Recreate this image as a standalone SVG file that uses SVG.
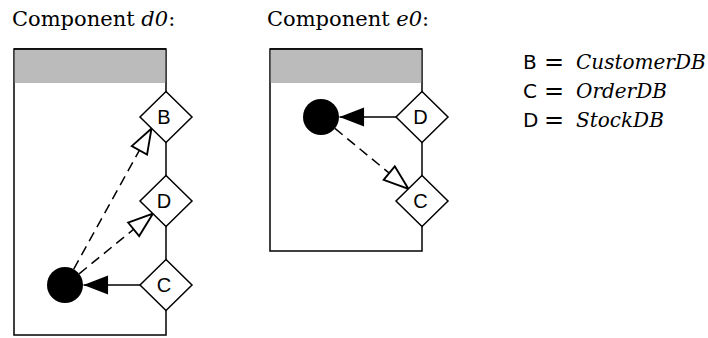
<svg xmlns="http://www.w3.org/2000/svg" width="708" height="338" viewBox="0 0 708 338">
<style>
.title{font-family:"DejaVu Serif",serif;font-size:21px;fill:#000}
.it{font-style:italic}
.box{fill:#fff;stroke:#000;stroke-width:1.5}
.head{fill:#bbbbbb;stroke:none}
.edge{stroke:#000;stroke-width:1.5;fill:none}
.dia{fill:#fff;stroke:#000;stroke-width:1.5}
.lbl{font-family:"Liberation Sans",Arial,sans-serif;font-size:20px;text-anchor:middle;fill:#000}
.sol{stroke:#000;stroke-width:1.5;fill:none}
.dash{stroke:#000;stroke-width:1.5;fill:none;stroke-dasharray:10 6}
.leg{font-family:"DejaVu Sans",sans-serif;font-size:20px;fill:#000}
.eq{font-family:"DejaVu Sans",sans-serif;font-size:24px;fill:#000}
.legi{font-family:"DejaVu Serif",serif;font-style:italic;font-size:20px;fill:#000}
</style>
<defs>
<marker id="filled" markerUnits="userSpaceOnUse" markerWidth="30" markerHeight="30" viewBox="-20 -10 22 20" refX="0" refY="0" orient="auto" overflow="visible">
<path d="M-18,-7 L0,0 L-18,7 Z" fill="#000" stroke="none"/>
</marker>
<marker id="hollow" markerUnits="userSpaceOnUse" markerWidth="30" markerHeight="30" viewBox="-22 -10 24 20" refX="0" refY="0" orient="auto" overflow="visible">
<path d="M-20,-7 L0,0 L-20,7 Z" fill="#fff" stroke="#000" stroke-width="1.5"/>
</marker>
</defs>

<text class="title" x="12" y="26">Component <tspan class="it">d0</tspan>:</text>
<text class="title" x="267" y="26">Component <tspan class="it">e0</tspan>:</text>

<g id="component-d0">
<rect class="box" x="14" y="49" width="152" height="286"/>
<rect class="head" x="14.75" y="49.75" width="150.5" height="33.25"/>
<line class="edge" x1="14" y1="49" x2="166" y2="49"/>
</g>
<g id="component-e0">
<rect class="box" x="270" y="49" width="152" height="202"/>
<rect class="head" x="270.75" y="49.75" width="150.5" height="33.25"/>
<line class="edge" x1="270" y1="49" x2="422" y2="49"/>
</g>

<g id="connectors">
<line class="sol" x1="140" y1="285" x2="83.5" y2="285" marker-end="url(#filled)"/>
<line class="dash" x1="73.7" y1="269.2" x2="151.5" y2="128.5" marker-end="url(#hollow)"/>
<line class="dash" x1="79.1" y1="273.8" x2="153" y2="213.5" marker-end="url(#hollow)"/>
<line class="sol" x1="396" y1="117" x2="339.5" y2="117" marker-end="url(#filled)"/>
<line class="dash" x1="334.9" y1="128.4" x2="408.5" y2="189" marker-end="url(#hollow)"/>
</g>

<g id="d0-circle"><circle cx="65" cy="285" r="18" fill="#000"/></g>
<g id="d0-B"><polygon class="dia" points="166,91.5 192,117 166,142.5 140,117"/><text class="lbl" x="164" y="124">B</text></g>
<g id="d0-D"><polygon class="dia" points="166,175.5 192,201 166,226.5 140,201"/><text class="lbl" x="164" y="208">D</text></g>
<g id="d0-C"><polygon class="dia" points="166,259.5 192,285 166,310.5 140,285"/><text class="lbl" x="164" y="292">C</text></g>

<g id="e0-circle"><circle cx="321" cy="117" r="18" fill="#000"/></g>
<g id="e0-D"><polygon class="dia" points="422,91.5 448,117 422,142.5 396,117"/><text class="lbl" x="420.5" y="124">D</text></g>
<g id="e0-C"><polygon class="dia" points="422,175.5 448,201 422,226.5 396,201"/><text class="lbl" x="420.5" y="208">C</text></g>

<g id="legend">
<text class="leg" x="523" y="69">B</text><text class="eq" x="544" y="70">=</text><text class="legi" x="576" y="69">CustomerDB</text>
<text class="leg" x="523" y="98">C</text><text class="eq" x="544" y="99">=</text><text class="legi" x="576" y="98">OrderDB</text>
<text class="leg" x="523" y="127">D</text><text class="eq" x="544" y="128">=</text><text class="legi" x="576" y="127">StockDB</text>
</g>
</svg>
